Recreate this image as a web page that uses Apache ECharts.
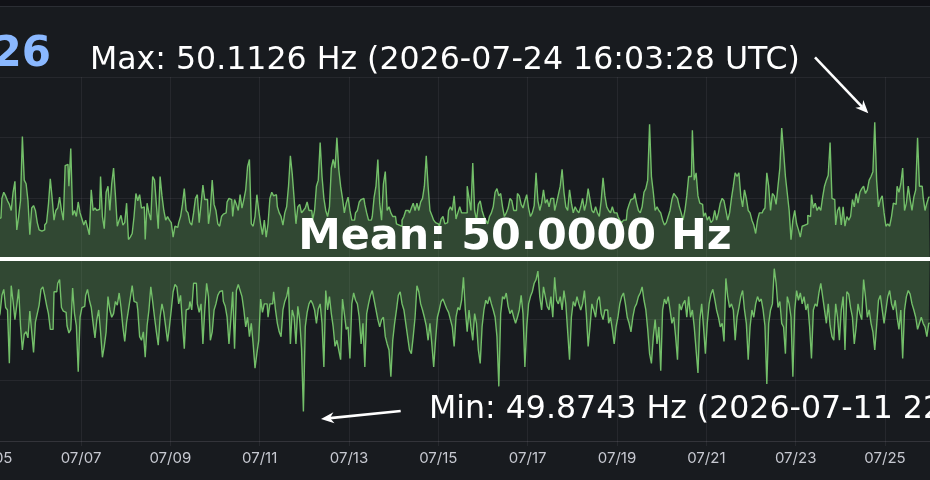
<!DOCTYPE html>
<html>
<head>
<meta charset="utf-8">
<script src="https://cdn.jsdelivr.net/npm/echarts@6.0.0/dist/echarts.min.js"></script>
<style>
html,body{margin:0;padding:0;background:#181b1f;}
#chart{width:930px;height:480px;}
</style>
</head>
<body>
<div id="chart"></div>
<script>
// Hourly frequency extremes, as deviation from nominal 50 Hz in mHz.
// Sample 0 = 2026-07-05 00:00 (local axis time), one sample per hour.
const NOMINAL_HZ = 50;
const START_DAY = 4;          // axis value: days since 07/01 -> 4 = 07/05
const HOURS_PER_DAY = 24;

const upperDevMHz = [
35,40,30,38,33,34,50,55,52,48,45,40,55,64,24,35,48,101,65,62,
48,20,42,44,40,30,24,23,24,28,30,45,66,50,32,40,42,51,40,32,
77,78,60,91,36,40,35,47,38,33,28,32,26,20,57,40,42,40,41,68,
35,25,55,60,40,62,75,52,27,32,36,28,30,46,16,18,21,35,54,48,
53,42,43,16,46,38,32,68,
65,45,25,68,52,40,32,35,32,30,18,27,26,30,35,45,58,40,38,30,
28,38,50,53,30,45,61,49,49,29,40,65,45,40,29,27,35,37,38,47,
50,49,35,49,45,40,53,42,49,57,76,82,29,27,35,53,40,29,20,32,
18,29,50,55,52,53,43,38,35,28,38,43,60,85,70,50,29,43,45,38,
40,42,47,40,
40,32,40,60,65,96,68,50,40,35,43,75,82,75,100,74,60,50,38,46,
51,40,32,32,38,40,47,49,50,45,38,32,32,35,51,60,82,46,32,62,
72,40,43,38,35,35,29,28,27,32,35,40,40,38,42,46,40,46,40,47,
50,60,85,60,40,36,32,30,29,27,33,35,29,30,40,43,40,52,33,38,
43,38,38,
38,60,50,40,79,40,32,45,48,40,35,32,29,35,38,43,55,58,52,54,
43,35,38,42,50,48,40,40,54,52,45,42,48,53,42,35,38,44,71,48,
40,46,57,46,49,43,50,50,40,46,53,60,74,55,43,40,57,46,38,43,
40,38,43,50,40,46,58,49,40,38,43,38,35,48,67,52,43,40,38,43,
38,38,35,
32,30,32,32,40,45,49,50,54,46,40,38,43,55,58,65,111,68,55,40,
43,40,38,32,28,30,35,40,49,54,52,50,43,38,32,40,52,68,68,106,
65,71,52,46,45,35,38,32,35,30,32,40,32,38,46,50,48,40,32,38,
50,60,71,68,71,52,43,57,50,40,38,32,28,21,32,38,38,40,42,71,
60,40,54,52,
45,60,75,108,89,68,54,40,16,32,40,29,24,18,27,28,29,36,35,53,
42,46,40,43,40,51,60,65,69,96,50,49,28,40,43,28,43,27,35,32,
35,49,43,54,46,55,58,60,54,57,65,68,72,112.6,65,43,49,52,38,27,
29,27,35,46,45,60,55,62,75,40,46,60,49,40,51,57,100,60,60,51,
40,46,51
];

const lowerDevMHz = [
-35,-40,-30,-45,-50,-45,-30,-25,-40,-42,-86,-22,-35,-50,-38,-25,-55,-75,-62,-60,
-65,-43,-60,-77,-52,-45,-38,-25,-23,-30,-38,-45,-58,-58,-27,-27,-20,-17,-40,-43,
-44,-55,-61,-58,-24,-45,-55,-93,-48,-40,-39,-30,-25,-34,-40,-53,-65,-50,-42,-60,
-81,-72,-60,-31,-42,-48,-45,-35,-38,-28,-40,-56,-68,-52,-42,-32,-22,-35,-36,-42,
-64,-67,-60,-81,-55,-42,-23,-35,
-48,-60,-71,-48,-37,-44,-56,-68,-56,-42,-27,-21,-23,-37,-30,-53,-74,-42,-41,-35,
-42,-20,-20,-37,-44,-37,-70,-42,-20,-31,-67,-60,-42,-37,-30,-27,-26,-35,-39,-48,
-70,-50,-27,-74,-26,-21,-26,-31,-42,-56,-48,-64,-53,-70,-90,-78,-67,-33,-44,-37,
-37,-48,-37,-37,-27,-42,-53,-60,-64,-42,-35,-31,-23,-70,-42,-48,-70,-39,-50,-74,
-125.7,-56,-44,-37,
-34,-37,-42,-53,-41,-37,-53,-89,-26,-42,-31,-45,-56,-72,-67,-75,-83,-33,-45,-58,
-56,-82,-37,-28,-34,-37,-48,-70,-53,-89,-45,-37,-30,-26,-34,-42,-50,-56,-50,-48,
-64,-70,-75,-97,-67,-53,-42,-30,-27,-37,-42,-53,-64,-75,-78,-64,-48,-22,-27,-37,
-42,-48,-55,-67,-53,-70,-89,-67,-48,-42,-35,-33,-37,-41,-44,-50,-56,-72,-48,-40,
-42,-34,-15,
-42,-60,-42,-56,-67,-45,-53,-75,-86,-56,-42,-34,-37,-31,-37,-42,-48,-64,-105,-45,
-31,-33,-28,-39,-45,-42,-48,-53,-48,-42,-30,-45,-89,-56,-37,-31,-27,-20,-17,-10,
-31,-42,-23,-31,-39,-42,-31,-48,-15,-34,-37,-31,-42,-26,-37,-60,-83,-48,-35,-39,
-31,-37,-42,-37,-26,-45,-72,-56,-37,-42,-48,-34,-31,-45,-50,-42,-42,-53,-48,-58,
-70,-56,-48,
-37,-31,-28,-37,-48,-53,-60,-48,-40,-37,-31,-28,-23,-34,-42,-58,-78,-86,-64,-50,
-70,-56,-92,-42,-33,-37,-31,-42,-53,-48,-64,-83,-37,-42,-37,-34,-48,-31,-48,-42,
-56,-75,-94,-50,-37,-56,-78,-53,-37,-29,-25,-33,-42,-48,-56,-53,-68,-16,-31,-40,
-37,-42,-67,-48,-40,-31,-26,-42,-53,-83,-56,-42,-48,-37,-31,-35,-33,-42,-55,-103,
-53,-42,-37,-8,
-20,-40,-35,-53,-56,-78,-31,-37,-48,-97,-42,-26,-34,-28,-37,-31,-42,-37,-56,-82,
-42,-37,-39,-28,-20,-31,-42,-53,-37,-55,-64,-67,-37,-48,-67,-42,-31,-75,-27,-29,
-40,-48,-70,-56,-37,-45,-50,-17,-31,-48,-42,-53,-60,-75,-55,-34,-30,-42,-53,-42,
-31,-26,-37,-42,-34,-48,-58,-42,-82,-42,-31,-26,-29,-37,-42,-48,-58,-53,-48,-53,
-56,-64,-53
];

const meanHz = 50.0000;
const xTickMin = 4, xTickMax = 26, xTickStep = 2;   // 07/05 .. 07/27 every 2 days
const yMin = 49.85, yMax = 50.15, yStep = 0.05;

const maxText  = 'Max: 50.1126 Hz (2026-07-24 16:03:28 UTC)';
const minText  = 'Min: 49.8743 Hz (2026-07-11 22:41:37 UTC)';
const meanText = 'Mean: 50.0000 Hz';
const statText = '26';

function toPoints(devs){
  return devs.map((d,i)=>[START_DAY + i/HOURS_PER_DAY, NOMINAL_HZ + d/1000]);
}
function dayLabel(v){
  const d = Math.round(v) + 1;
  return '07/' + (d < 10 ? '0' + d : d);
}

const gridCol = 'rgba(204,204,220,0.08)';
const lineCol = '#73BF69';
const fillCol = 'rgba(115,191,105,0.40)';

const chart = echarts.init(document.getElementById('chart'), null, {renderer:'canvas'});
chart.setOption({
  backgroundColor:'#181b1f',
  animation:false,
  grid:{left:-8.33, right:-44.33, top:77, bottom:39, containLabel:false, outerBoundsMode:'none'},
  xAxis:{
    type:'value', min:xTickMin, max:xTickMax, interval:xTickStep,
    axisLine:{show:true, lineStyle:{color:gridCol}},
    axisTick:{show:true, length:5, lineStyle:{color:gridCol}},
    splitLine:{show:true, lineStyle:{color:gridCol, width:1}},
    axisLabel:{color:'#c7c9d1', fontFamily:'Inter', fontSize:15, margin:10, formatter:dayLabel}
  },
  yAxis:{
    type:'value', min:yMin, max:yMax, interval:yStep,
    axisLine:{show:false}, axisTick:{show:false}, axisLabel:{show:false},
    splitLine:{show:true, lineStyle:{color:gridCol, width:1}}
  },
  series:[
    {type:'line', name:'max', data:toPoints(upperDevMHz), step:'middle', symbol:'none', sampling:'none',
     lineStyle:{color:lineCol, width:1.4}, areaStyle:{color:fillCol, origin:meanHz}, silent:true, z:2},
    {type:'line', name:'min', data:toPoints(lowerDevMHz), step:'middle', symbol:'none', sampling:'none',
     lineStyle:{color:lineCol, width:1.4}, areaStyle:{color:fillCol, origin:meanHz}, silent:true, z:3,
     markLine:{silent:true, symbol:'none', label:{show:false},
       lineStyle:{color:'#ffffff', width:4, type:'solid'},
       data:[{yAxis:meanHz}]}}
  ],
  graphic:[
    {type:'rect', z:100, shape:{x:0,y:0,width:930,height:6}, style:{fill:'#111217'}},
    {type:'rect', z:100, shape:{x:0,y:6,width:930,height:1}, style:{fill:'#2b2e34'}},
    {type:'text', z:100, x:51, y:55, style:{text:statText, fill:'#8AB8FF', font:'bold 42px "DejaVu Sans"', align:'right', verticalAlign:'middle'}},
    {type:'text', z:100, x:90, y:61, style:{text:maxText, fill:'#ffffff', font:'31.6px "DejaVu Sans"', align:'left', verticalAlign:'middle'}},
    {type:'text', z:100, x:515, y:238, style:{text:meanText, fill:'#ffffff', font:'bold 42.8px "DejaVu Sans"', align:'center', verticalAlign:'middle'}},
    {type:'text', z:100, x:429, y:409.5, style:{text:minText, fill:'#ffffff', font:'31.6px "DejaVu Sans"', align:'left', verticalAlign:'middle'}},
    {type:'line', z:100, shape:{x1:815, y1:57.3, x2:862.1, y2:106.8}, style:{stroke:'#ffffff', lineWidth:2.6}},
    {type:'polygon', z:100, shape:{points:[[868.3,113.3],[855.3,107.7],[862.1,106.8],[863.3,100.1]]}, style:{fill:'#ffffff'}},
    {type:'line', z:100, shape:{x1:400.7, y1:411, x2:330, y2:418.1}, style:{stroke:'#ffffff', lineWidth:2.6}},
    {type:'polygon', z:100, shape:{points:[[321,419],[333.4,412.2],[330,418.1],[334.5,423.2]]}, style:{fill:'#ffffff'}}
  ]
});
</script>
</body>
</html>
